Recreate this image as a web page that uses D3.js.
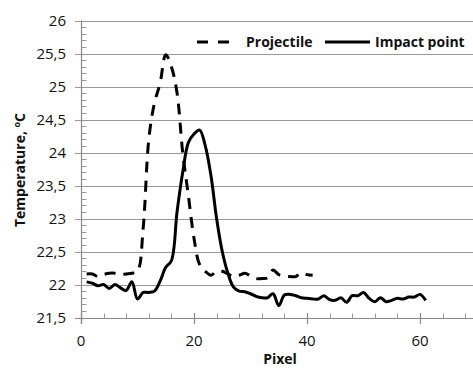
<!DOCTYPE html>
<html><head><meta charset="utf-8">
<script src="https://cdn.jsdelivr.net/npm/d3@7"></script>
<style>
html,body{margin:0;padding:0;background:#fff;}
svg{display:block;}
text{font-family:'Open Sans',sans-serif;fill:#111;}
</style></head><body>
<svg id="c" width="473" height="369"></svg>
<script>
// ---- data ----
const projectilePixel = [1,2,3,4,5,6,7,8,9,10,11,12,13,14,15,16,17,18,19,20,21,22,23,24,25,26,27,28,29,30,31,32,33,34,35,36,37,38,39,40,41];
const projectileTemp  = [22.16,22.16,22.12,22.15,22.17,22.17,22.15,22.16,22.17,22.2,22.85,24.2,24.75,25.05,25.48,25.3,24.9,24.0,23.35,22.7,22.3,22.2,22.14,22.2,22.2,22.16,22.12,22.14,22.17,22.13,22.09,22.09,22.1,22.22,22.15,22.13,22.12,22.12,22.18,22.15,22.14];
const impactPixel = [1,2,3,4,5,6,7,8,9,10,11,12,13,14,15,16,17,18,19,20,21,22,23,24,25,26,27,28,29,30,31,32,33,34,35,36,37,38,39,40,41,42,43,44,45,46,47,48,49,50,51,52,53,54,55,56,57,58,59,60,61];
const impactTemp  = [22.04,22.02,21.98,22.0,21.94,22.0,21.95,21.91,22.04,21.78,21.88,21.88,21.9,22.05,22.26,22.36,23.1,23.7,24.15,24.28,24.34,24.1,23.65,23.0,22.5,22.17,21.96,21.9,21.89,21.86,21.82,21.8,21.8,21.86,21.68,21.84,21.85,21.83,21.8,21.79,21.78,21.78,21.83,21.77,21.76,21.8,21.73,21.83,21.83,21.88,21.79,21.74,21.8,21.74,21.76,21.79,21.78,21.81,21.81,21.85,21.76];
const xTicks = [0,20,40,60];
const xMinorTicks = [0,4,8,12,16,20,24,28,32,36,40,44,48,52,56,60,64,68];
const yTicks = [21.5,22,22.5,23,23.5,24,24.5,25,25.5,26];
const yTickLabels = ["21,5","22","22,5","23","23,5","24","24,5","25","25,5","26"];
const yMinorTicks = [21.6,21.7,21.8,21.9,22.1,22.2,22.3,22.4,22.6,22.7,22.8,22.9,23.1,23.2,23.3,23.4,23.6,23.7,23.8,23.9,24.1,24.2,24.3,24.4,24.6,24.7,24.8,24.9,25.1,25.2,25.3,25.4,25.6,25.7,25.8,25.9];
const seriesNames = ["Projectile","Impact point"];

const svg = d3.select("#c");
const x = d3.scaleLinear().domain([0,70]).range([81,476.5]);
const y = d3.scaleLinear().domain([21.5,26]).range([317.5,20.5]);

// gridlines (with outside major tick stub)
svg.append("g").selectAll("line").data(yTicks.slice(1)).join("line")
  .attr("x1",75).attr("x2",473).attr("y1",d=>Math.round(y(d))+0.5).attr("y2",d=>Math.round(y(d))+0.5)
  .attr("stroke","#999").attr("stroke-width",1.2);

// y axis line
svg.append("line").attr("x1",81.5).attr("x2",81.5).attr("y1",y(26)).attr("y2",324)
  .attr("stroke","#888").attr("stroke-width",1.2);
// y minor ticks (inside)
svg.append("g").selectAll("line").data(yMinorTicks).join("line")
  .attr("x1",81.5).attr("x2",86.5).attr("y1",d=>Math.round(y(d))+0.5).attr("y2",d=>Math.round(y(d))+0.5)
  .attr("stroke","#999").attr("stroke-width",1);
// x axis line
svg.append("line").attr("x1",75).attr("x2",473).attr("y1",Math.round(y(21.5))+0.5).attr("y2",Math.round(y(21.5))+0.5)
  .attr("stroke","#888").attr("stroke-width",1.2);
// x minor ticks (inside)
svg.append("g").selectAll("line").data(xMinorTicks).join("line")
  .attr("x1",d=>Math.round(x(d))+0.5).attr("x2",d=>Math.round(x(d))+0.5)
  .attr("y1",Math.round(y(21.5))-4.5).attr("y2",Math.round(y(21.5))+0.5)
  .attr("stroke","#999").attr("stroke-width",1);
// x major ticks (cross)
svg.append("g").selectAll("line").data(xTicks).join("line")
  .attr("x1",d=>Math.round(x(d))+0.5).attr("x2",d=>Math.round(x(d))+0.5)
  .attr("y1",Math.round(y(21.5))-5).attr("y2",Math.round(y(21.5))+6)
  .attr("stroke","#888").attr("stroke-width",1.2);

// tick labels
svg.append("g").selectAll("text").data(yTicks).join("text")
  .attr("x",66).attr("y",d=>y(d)).attr("dy","0.36em").attr("text-anchor","end")
  .attr("font-size",15).text((d,i)=>yTickLabels[i]);
svg.append("g").selectAll("text").data(xTicks).join("text")
  .attr("x",d=>x(d)).attr("y",346).attr("text-anchor","middle")
  .attr("font-size",15).text(d=>d);

// axis titles
svg.append("text").attr("x",280).attr("y",364).attr("text-anchor","middle")
  .attr("font-size",14).attr("font-weight","bold").text("Pixel");
const yt = svg.append("text").attr("transform","translate(25,170) rotate(-90)")
  .attr("text-anchor","middle").attr("font-size",14).attr("font-weight","bold");
yt.append("tspan").text("Temperature, ");
yt.append("tspan").attr("font-size",9).attr("dy","-0.6em").text("o");
yt.append("tspan").attr("dy","0.35em").text("C");

// lines
const line = d3.line().x(d=>x(d[0])).y(d=>y(d[1])).curve(d3.curveCatmullRom.alpha(0.5));
svg.append("path").datum(projectilePixel.map((p,i)=>[p,projectileTemp[i]]))
  .attr("d",line).attr("fill","none").attr("stroke","#000").attr("stroke-width",3)
  .attr("stroke-dasharray","11,8");
svg.append("path").datum(impactPixel.map((p,i)=>[p,impactTemp[i]]))
  .attr("d",line).attr("fill","none").attr("stroke","#000").attr("stroke-width",3)
  .attr("stroke-linejoin","round");

// legend
const lg = svg.append("g");
lg.append("line").attr("x1",197).attr("x2",231).attr("y1",42).attr("y2",42)
  .attr("stroke","#000").attr("stroke-width",3).attr("stroke-dasharray","11,10");
lg.append("text").attr("x",246).attr("y",47).attr("font-size",14).attr("font-weight","bold").text(seriesNames[0]);
lg.append("line").attr("x1",325).attr("x2",370).attr("y1",42).attr("y2",42)
  .attr("stroke","#000").attr("stroke-width",3);
lg.append("text").attr("x",375).attr("y",47).attr("font-size",14).attr("font-weight","bold").text(seriesNames[1]);
</script></body></html>
